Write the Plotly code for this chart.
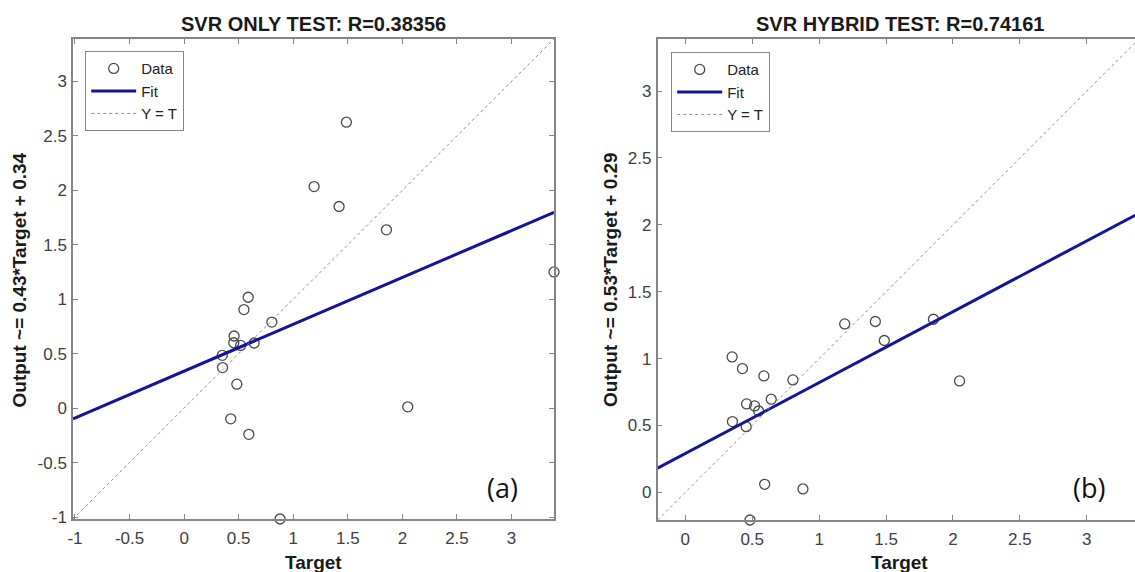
import plotly.graph_objects as go

# ---------------- data ----------------
target = [1.487, 1.191, 1.42, 1.854, 3.389, 0.587, 0.548, 0.804, 0.458, 0.455,
          0.518, 0.642, 0.35, 0.352, 0.483, 0.427, 0.593, 2.049, 0.879]
svr_only_output = [2.625, 2.034, 1.851, 1.637, 1.25, 1.018, 0.905, 0.79, 0.662, 0.60,
                   0.576, 0.598, 0.485, 0.372, 0.22, -0.098, -0.241, 0.012, -1.018]
svr_hybrid_output = [1.135, 1.259, 1.277, 1.294, 2.303, 0.870, 0.608, 0.840, 0.661, 0.491,
                     0.646, 0.696, 1.012, 0.529, -0.207, 0.925, 0.06, 0.833, 0.025]

fit_only = (0.43, 0.34)     # slope, intercept
fit_hybrid = (0.53, 0.29)

titles = ["SVR ONLY TEST: R=0.38356", "SVR HYBRID TEST: R=0.74161"]
ylabels = ["Output ~= 0.43*Target + 0.34", "Output ~= 0.53*Target + 0.29"]
panel_tags = ["(a)", "(b)"]

ticks_a = [-1, -0.5, 0, 0.5, 1, 1.5, 2, 2.5, 3]
ticks_b = [0, 0.5, 1, 1.5, 2, 2.5, 3]


def lab(v):
    return "%g" % v


# ---------------- figure ----------------
W, H = 1135, 572
fig = go.Figure()

lo_a = min(min(target), min(svr_only_output))
hi_a = max(max(target), max(svr_only_output))
lo_b = min(min(target), min(svr_hybrid_output))
hi_b = max(max(target), max(svr_hybrid_output))
xr_b_end = 3.36  # right panel is cropped by the image edge

marker_style = dict(symbol="circle-open", size=10, color="#4a4a4a", line=dict(width=1.3, color="#4a4a4a"))
fit_color = "#14149a"

panels = [
    ("x", "y", "legend", lo_a, hi_a, svr_only_output, fit_only),
    ("x2", "y2", "legend2", lo_b, hi_b, svr_hybrid_output, fit_hybrid),
]
for xa, ya, lg, lo, hi, out, (m, c) in panels:
    fig.add_trace(go.Scatter(x=target, y=out, mode="markers", marker=marker_style, name="Data",
                             xaxis=xa, yaxis=ya, legend=lg, cliponaxis=False))
    fig.add_trace(go.Scatter(x=[lo, hi], y=[m * lo + c, m * hi + c], mode="lines", name="Fit",
                             line=dict(color=fit_color, width=3), xaxis=xa, yaxis=ya, legend=lg))
    fig.add_trace(go.Scatter(x=[lo, hi], y=[lo, hi], mode="lines", name="Y = T",
                             line=dict(color="#909090", width=1, dash="dot"), xaxis=xa, yaxis=ya, legend=lg))

tickfont = dict(family="Liberation Sans, Arial", size=17, color="#404040")
common = dict(showline=True, linecolor="#858585", linewidth=1.5, ticks="inside", ticklen=5,
              tickcolor="#858585", tickwidth=1.2, showgrid=False, zeroline=False,
              tickfont=tickfont, automargin=False)

legend_font = dict(family="Liberation Sans, Arial", size=15, color="#222222")
y_top = 1 - 39 / H
fig.update_layout(
    width=W, height=H,
    margin=dict(l=0, r=0, t=0, b=0),
    paper_bgcolor="white", plot_bgcolor="white",
    xaxis=dict(domain=[73 / W, 554 / W], range=[lo_a, hi_a], tickvals=ticks_a,
               ticktext=[lab(v) for v in ticks_a], mirror="ticks", anchor="y",
               ticklabelstandoff=3, **common),
    yaxis=dict(domain=[1 - 519 / H, y_top], range=[lo_a, hi_a], tickvals=ticks_a,
               ticktext=[lab(v) for v in ticks_a], mirror="ticks", anchor="x",
               ticklabelstandoff=1, **common),
    xaxis2=dict(domain=[657.6 / W, 1.0], range=[lo_b, xr_b_end], tickvals=ticks_b,
                ticktext=[lab(v) for v in ticks_b], mirror="ticks", anchor="y2",
                ticklabelstandoff=3, **common),
    yaxis2=dict(domain=[1 - 520 / H, y_top], range=[lo_b, hi_b], tickvals=ticks_b,
                ticktext=[lab(v) for v in ticks_b], mirror=False, anchor="x2",
                ticklabelstandoff=1, **common),
    legend=dict(x=85 / W, y=1 - 51 / H, xanchor="left", yanchor="top", bgcolor="white",
                bordercolor="#858585", borderwidth=1.2, tracegroupgap=0, itemwidth=45,
                font=legend_font),
    legend2=dict(x=671 / W, y=1 - 52 / H, xanchor="left", yanchor="top", bgcolor="white",
                 bordercolor="#858585", borderwidth=1.2, tracegroupgap=0, itemwidth=45,
                 font=legend_font),
    showlegend=True,
)

bold = dict(family="Liberation Sans, Arial", color="#1a1a1a", weight="bold")
centers = [313 / W, 899.5 / W]
ylab_x = [18.5 / W, 610 / W]
tag_x = [502 / W, 1089 / W]
for i in range(2):
    fig.add_annotation(text=titles[i], x=centers[i], y=1 - 24 / H, xref="paper", yref="paper",
                       showarrow=False, xanchor="center", yanchor="middle", font=dict(size=20, **bold))
    fig.add_annotation(text="Target", x=centers[i], y=1 - 562 / H, xref="paper", yref="paper",
                       showarrow=False, xanchor="center", yanchor="middle", font=dict(size=19, **bold))
    fig.add_annotation(text=ylabels[i], x=ylab_x[i], y=1 - 280 / H, xref="paper", yref="paper",
                       showarrow=False, xanchor="center", yanchor="middle", textangle=-90,
                       font=dict(size=19, **bold))
    fig.add_annotation(text=panel_tags[i], x=tag_x[i], y=1 - 487 / H, xref="paper", yref="paper",
                       showarrow=False, xanchor="center", yanchor="middle",
                       font=dict(family="Open Sans, Noto Sans", size=27, color="#111111"))

fig.write_html("out.html", config={"displayModeBar": False},
               post_script="document.body.style.margin='0';document.body.style.overflow='hidden';")
